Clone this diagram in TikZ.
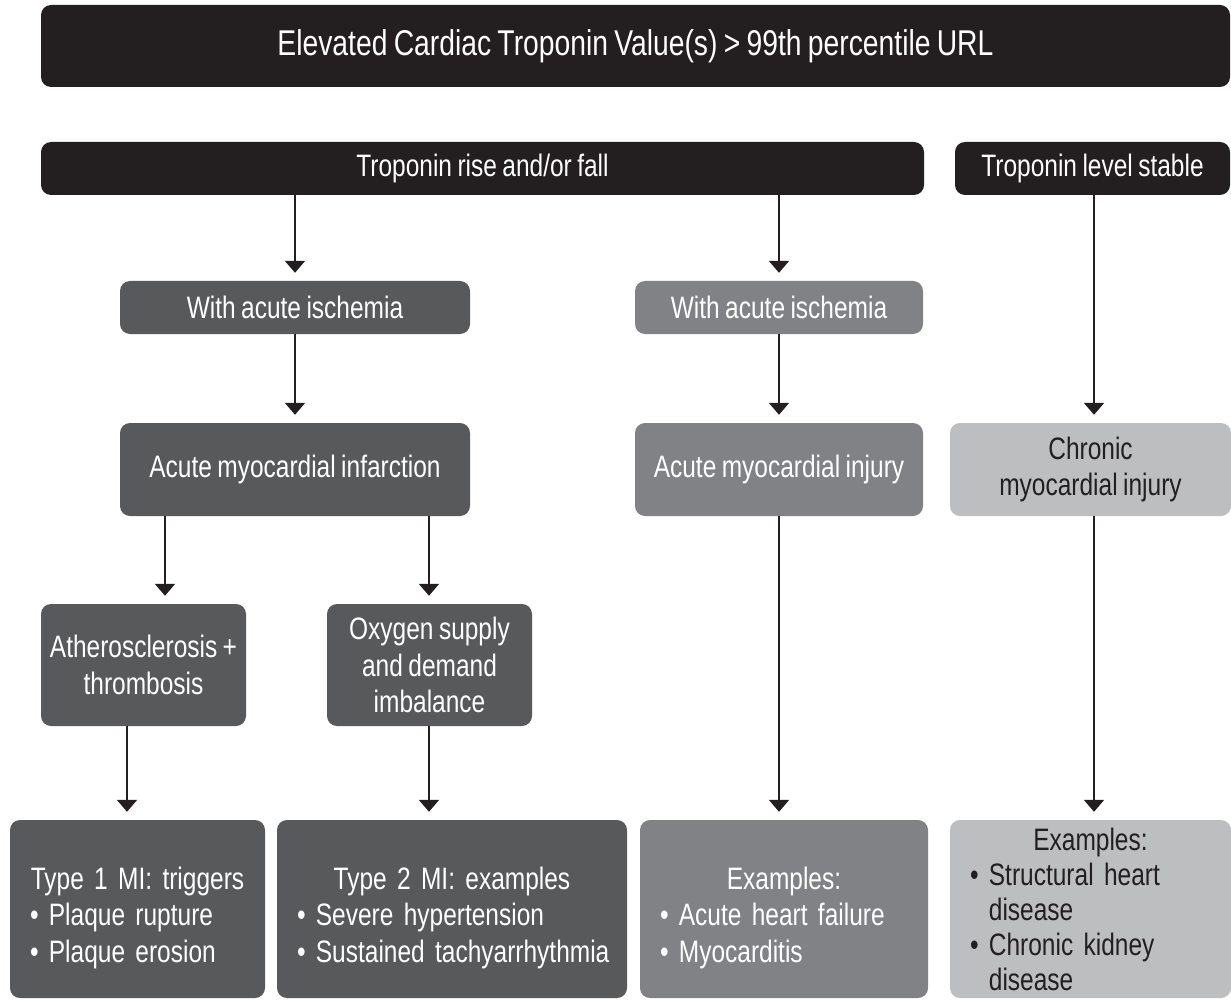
\documentclass[tikz,border=0pt]{standalone}
\usepackage{fontspec}
\setmainfont{Liberation Sans}[FakeStretch=0.79, WordSpace=0.8]
\usetikzlibrary{arrows.meta}
\definecolor{blk}{HTML}{231F20}
\definecolor{dg}{HTML}{58595B}
\definecolor{mg}{HTML}{808285}
\definecolor{lg}{HTML}{BCBEC0}
\tikzset{
  box/.style={rectangle, rounded corners=10pt, draw=none, inner sep=0pt, align=center,
    text=white, font=\fontsize{31}{36.5}\selectfont\frenchspacing},
  titlebox/.style={box, fill=blk, font=\fontsize{35.8}{42}\selectfont},
  headbox/.style={box, fill=blk},
  darkbox/.style={box, fill=dg},
  midbox/.style={box, fill=mg},
  lightbox/.style={box, fill=lg, text=blk},
  listbox/.style={align=left, inner xsep=20pt, inner ysep=0pt, minimum height=178pt},
  arr/.style={draw=blk, line width=2.2pt, -{Triangle[width=20pt,length=12pt]}, shorten >=8pt}
}
\begin{document}
\begin{tikzpicture}[x=1pt,y=-1pt]
\useasboundingbox (0,0) rectangle (1231,1000);
% row 0
\node[titlebox, minimum width=1189pt, minimum height=82pt] (title) at (635.5,46)
  {Elevated Cardiac Troponin Value(s) > 99th percentile URL};
% row 1
\node[headbox, minimum width=883pt, minimum height=53pt] (rise) at (482.5,168.5) {Troponin rise and/or fall};
\node[headbox, minimum width=275pt, minimum height=53pt] (stable) at (1092.5,168.5) {Troponin level stable};
% row 2
\node[darkbox, minimum width=350pt, minimum height=53pt] (isch1) at (295,307.5) {With acute ischemia};
\node[midbox, minimum width=288pt, minimum height=53pt] (isch2) at (779,307.5) {With acute ischemia};
% row 3
\node[darkbox, minimum width=350pt, minimum height=93pt] (ami) at (295,469.5) {Acute myocardial infarction};
\node[midbox, minimum width=288pt, minimum height=93pt] (injury) at (779,469.5) {Acute myocardial injury};
\node[lightbox, minimum width=281pt, minimum height=93pt] (chronic) at (1090.5,469.5) {Chronic\\myocardial injury};
% row 4
\node[darkbox, minimum width=205pt, minimum height=122pt] (athero) at (143.5,665) {Atherosclerosis +\\thrombosis};
\node[darkbox, minimum width=205pt, minimum height=122pt] (oxygen) at (429.5,665) {Oxygen supply\\and demand\\imbalance};
% row 5
\node[darkbox, listbox, text width=215pt] (t1) at (137.5,909)
  {\makebox[\linewidth]{\rule{0pt}{40pt}Type 1 MI: triggers}\\\mbox{• Plaque rupture}\\\mbox{• Plaque erosion}};
\node[darkbox, listbox, text width=310pt] (t2) at (452,909)
  {\makebox[\linewidth]{\rule{0pt}{40pt}Type 2 MI: examples}\\\mbox{• Severe hypertension}\\\mbox{• Sustained tachyarrhythmia}};
\node[midbox, listbox, text width=248pt] (ex1) at (784,909)
  {\makebox[\linewidth]{\rule{0pt}{40pt}Examples:}\\\mbox{• Acute heart failure}\\\mbox{• Myocarditis}};
\node[lightbox, listbox, text width=241pt, font=\fontsize{31}{35}\selectfont\frenchspacing] (ex2) at (1090.5,909)
  {\makebox[\linewidth]{Examples:}\\\mbox{• Structural heart}\\\mbox{\phantom{• }disease}\\\mbox{• Chronic kidney}\\\mbox{\phantom{• }disease}};
% arrow columns
\coordinate (c127) at (127,0);
\coordinate (c165) at (165,0);
\coordinate (c295) at (295,0);
\coordinate (c429) at (429,0);
\coordinate (c779) at (779,0);
\coordinate (c1094) at (1094,0);
% connectors
\draw[arr] (rise.south -| c295) -- (isch1.north -| c295);
\draw[arr] (rise.south -| c779) -- (isch2.north -| c779);
\draw[arr] (stable.south -| c1094) -- (chronic.north -| c1094);
\draw[arr] (isch1.south -| c295) -- (ami.north -| c295);
\draw[arr] (isch2.south -| c779) -- (injury.north -| c779);
\draw[arr] (ami.south -| c165) -- (athero.north -| c165);
\draw[arr] (ami.south -| c429) -- (oxygen.north -| c429);
\draw[arr] (athero.south -| c127) -- (t1.north -| c127);
\draw[arr] (oxygen.south -| c429) -- (t2.north -| c429);
\draw[arr] (injury.south -| c779) -- (ex1.north -| c779);
\draw[arr] (chronic.south -| c1094) -- (ex2.north -| c1094);
\end{tikzpicture}
\end{document}
